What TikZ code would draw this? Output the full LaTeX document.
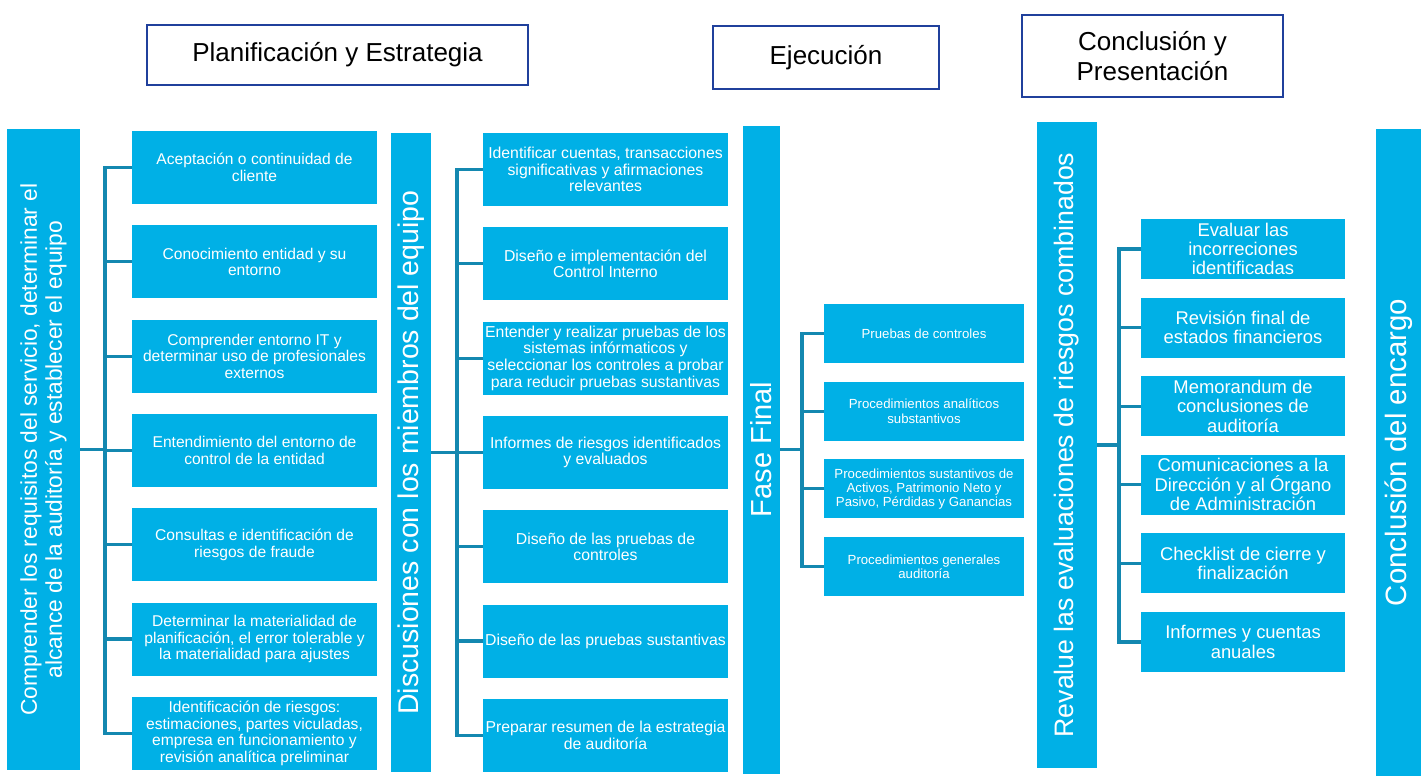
\documentclass[tikz,border=0pt]{standalone}
\usepackage{fontspec}
\setmainfont{Liberation Sans}
\definecolor{boxc}{RGB}{0,176,230}
\definecolor{connc}{RGB}{20,136,176}
\definecolor{hdrc}{RGB}{32,64,156}
\begin{document}
\begin{tikzpicture}[x=1pt,y=1pt,
  cell/.style={fill=boxc,draw=none,inner sep=0pt,align=center,text=white},
  lbox/.style={cell,minimum width=245pt,minimum height=73pt,font=\fontsize{15.6}{16.4}\selectfont},
  mbox/.style={cell,minimum width=245pt,minimum height=73pt,font=\fontsize{15.8}{16.7}\selectfont},
  fbox/.style={cell,minimum width=200pt,minimum height=59pt,font=\fontsize{13.2}{14.2}\selectfont},
  rbox/.style={cell,minimum width=204pt,minimum height=60pt,font=\fontsize{18.4}{19.4}\selectfont},
  bar/.style={cell,rotate=90},
  hdr/.style={draw=hdrc,line width=2.7pt,fill=white,inner sep=0pt,align=center,text=black,font=\fontsize{26}{30}\selectfont},
  conn/.style={draw=connc,line width=3.1pt}
]
\useasboundingbox (0,0) rectangle (1427,-776);

% headers
\node[hdr,minimum width=381pt,minimum height=60pt] (h1) at (337.5,-55) {Planificación y Estrategia};
\node[hdr,minimum width=226pt,minimum height=63pt] (h2) at (826,-57.5) {Ejecución};
\node[hdr,minimum width=261pt,minimum height=82pt] (h3) at (1152.5,-56) {Conclusión y\\Presentación};

% bars
\node[bar,minimum width=641pt,minimum height=73pt,font=\fontsize{22.8}{25}\selectfont] (b1) at (43.5,-449.5)
  {Comprender los requisitos del servicio, determinar el\\alcance de la auditoría y establecer el equipo};
\node[bar,minimum width=639pt,minimum height=40pt,font=\fontsize{28.5}{30}\selectfont] (b2) at (411,-452.5)
  {Discusiones con los miembros del equipo};
\node[bar,minimum width=648pt,minimum height=37pt,font=\fontsize{29}{30}\selectfont] (b3) at (761.5,-449.5)
  {Fase Final};
\node[bar,minimum width=646pt,minimum height=60pt,font=\fontsize{26.7}{30}\selectfont] (b4) at (1067,-445)
  {Revalue las evaluaciones de riesgos combinados};
\node[bar,minimum width=647pt,minimum height=45pt,font=\fontsize{29.4}{30}\selectfont] (b5) at (1398.5,-452.5)
  {Conclusión del encargo};

% left column
\node[lbox] (l1) at (254.5,-167.5) {Aceptación o continuidad de\\cliente};
\node[lbox] (l2) at (254.5,-261.8) {Conocimiento entidad y su\\entorno};
\node[lbox] (l3) at (254.5,-356.1) {Comprender entorno IT y\\determinar uso de profesionales\\externos};
\node[lbox] (l4) at (254.5,-450.4) {Entendimiento del entorno de\\control de la entidad};
\node[lbox] (l5) at (254.5,-544.7) {Consultas e identificación de\\riesgos de fraude};
\node[lbox] (l6) at (254.5,-639.0) {Determinar la materialidad de\\planificación, el error tolerable y\\la materialidad para ajustes};
\node[lbox] (l7) at (254.5,-733.3) {Identificación de riesgos:\\estimaciones, partes viculadas,\\empresa en funcionamiento y\\revisión analítica preliminar};

% middle column
\node[mbox] (m1) at (605.5,-169.5) {Identificar cuentas, transacciones\\significativas y afirmaciones\\relevantes};
\node[mbox] (m2) at (605.5,-263.8) {Diseño e implementación del\\Control Interno};
\node[mbox] (m3) at (605.5,-358.1) {Entender y realizar pruebas de los\\sistemas infórmaticos y\\seleccionar los controles a probar\\para reducir pruebas sustantivas};
\node[mbox] (m4) at (605.5,-452.4) {Informes de riesgos identificados\\y evaluados};
\node[mbox] (m5) at (605.5,-546.7) {Diseño de las pruebas de\\controles};
\node[mbox] (m6) at (605.5,-641.0) {Diseño de las pruebas sustantivas};
\node[mbox] (m7) at (605.5,-735.3) {Preparar resumen de la estrategia\\de auditoría};

% fase final column
\node[fbox] (f1) at (924,-333.5) {Pruebas de controles};
\node[fbox] (f2) at (924,-411.2) {Procedimientos analíticos\\substantivos};
\node[fbox] (f3) at (924,-488.9) {Procedimientos sustantivos de\\Activos, Patrimonio Neto y\\Pasivo, Pérdidas y Ganancias};
\node[fbox] (f4) at (924,-566.6) {Procedimientos generales\\auditoría};

% right column
\node[rbox] (r1) at (1243,-249.0) {Evaluar las\\incorreciones\\identificadas};
\node[rbox] (r2) at (1243,-327.6) {Revisión final de\\estados financieros};
\node[rbox] (r3) at (1243,-406.2) {Memorandum de\\conclusiones de\\auditoría};
\node[rbox] (r4) at (1243,-484.8) {Comunicaciones a la\\Dirección y al Órgano\\de Administración};
\node[rbox] (r5) at (1243,-563.4) {Checklist de cierre y\\finalización};
\node[rbox] (r6) at (1243,-642.0) {Informes y cuentas\\anuales};

% trunks
\coordinate (t1) at (105,0);
\coordinate (t2) at (457,0);
\coordinate (t3) at (802,0);
\coordinate (t4) at (1119,0);

\draw[conn] (b1.south) -- (t1 |- b1.south);
\draw[conn,line cap=rect] (t1 |- l1.west) -- (t1 |- l7.west);
\foreach \i in {1,...,7} \draw[conn] (t1 |- l\i.west) -- (l\i.west);

\draw[conn] (b2.south) -- (t2 |- b2.south);
\draw[conn,line cap=rect] (t2 |- m1.west) -- (t2 |- m7.west);
\foreach \i in {1,...,7} \draw[conn] (t2 |- m\i.west) -- (m\i.west);

\draw[conn] (b3.south) -- (t3 |- b3.south);
\draw[conn,line cap=rect] (t3 |- f1.west) -- (t3 |- f4.west);
\foreach \i in {1,...,4} \draw[conn] (t3 |- f\i.west) -- (f\i.west);

\draw[conn] (b4.south) -- (t4 |- b4.south);
\draw[conn,line cap=rect] (t4 |- r1.west) -- (t4 |- r6.west);
\foreach \i in {1,...,6} \draw[conn] (t4 |- r\i.west) -- (r\i.west);
\end{tikzpicture}
\end{document}
